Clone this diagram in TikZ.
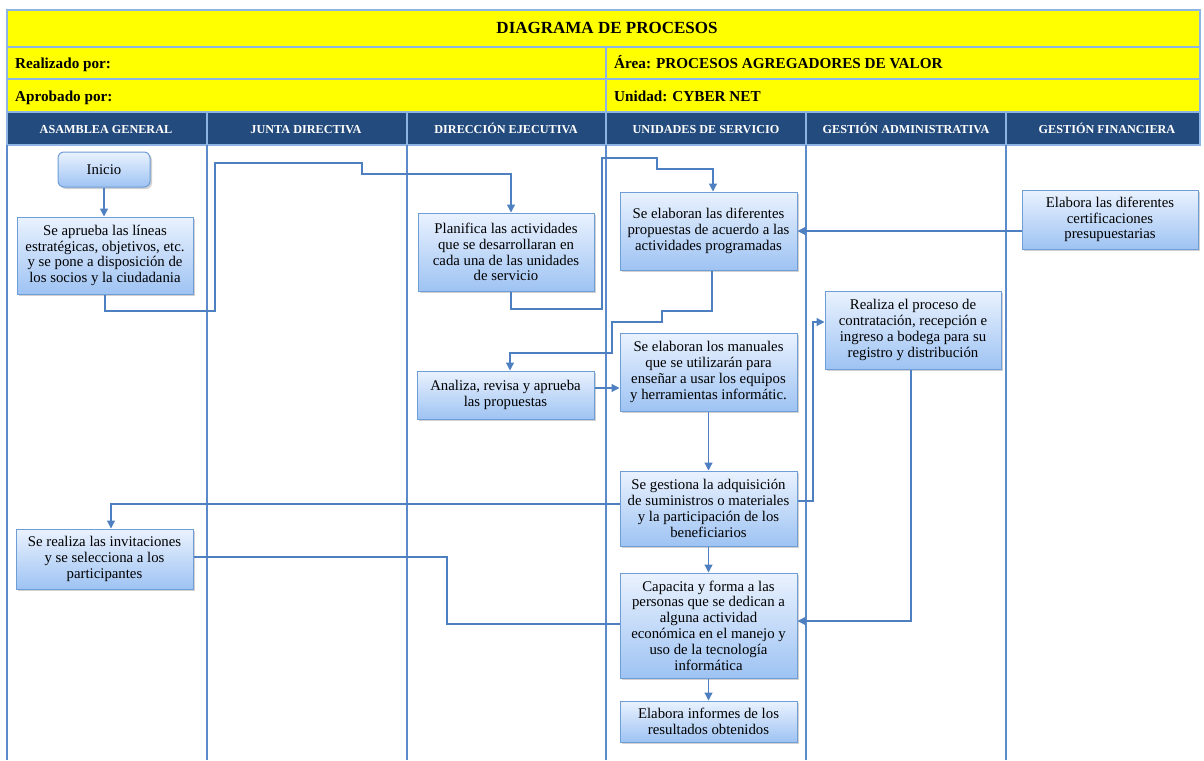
\documentclass[tikz,border=0pt]{standalone}
\usepackage{fontspec}
\setmainfont{Liberation Serif}
\usetikzlibrary{arrows.meta,shadows}
\definecolor{hdryellow}{HTML}{FFFF00}
\definecolor{hdrblue}{HTML}{244B7D}
\definecolor{gridblue}{HTML}{8EB4E3}
\definecolor{laneblue}{HTML}{5B8BCB}
\definecolor{connblue}{HTML}{4E7FC0}
\definecolor{boxborder}{HTML}{6F9DD6}
\definecolor{boxtop}{HTML}{EAF2FE}
\definecolor{boxbot}{HTML}{9EC3F3}
\begin{document}
\begin{tikzpicture}[x=1pt,y=-1pt,
  gridline/.style={draw=gridblue,line width=1.5pt},
  lane/.style={draw=laneblue,line width=1.2pt},
  conn/.style={draw=connblue,line width=1.2pt},
  arr/.style={conn,-{Triangle[width=8pt,length=8pt]}},
  hdrtxt/.style={text=white,font=\bfseries\fontsize{12.2}{14}\selectfont,inner sep=0pt,anchor=base},
  rowtxt/.style={text=black,font=\bfseries\fontsize{15.2}{17}\selectfont,inner sep=0pt,anchor=base west},
  procbox/.style={draw=boxborder,line width=1pt,top color=boxtop,bottom color=boxbot,
    drop shadow={shadow xshift=2pt,shadow yshift=-2pt,opacity=0.3,fill=black!60},
    align=center,inner sep=1pt,font=\fontsize{14.8}{15.8}\selectfont},
]
\useasboundingbox (0,0) rectangle (1204,760);
% header table
\fill[hdryellow] (7,10) rectangle (1200,112);
\fill[hdrblue] (7,112) rectangle (1200,145);
\draw[gridline] (7,10) rectangle (1200,145);
\draw[gridline] (7,47) -- (1200,47);
\draw[gridline] (7,79) -- (1200,79);
\draw[gridline] (7,112) -- (1200,112);
\draw[gridline] (606,47) -- (606,112);
\foreach \x in {207,407,606,806,1006} \draw[gridline] (\x,112) -- (\x,145);
% lanes
\foreach \x in {7,207,407,606,806,1006} \draw[lane] (\x,145) -- (\x,760);
% header texts
\node[font=\bfseries\fontsize{17}{19}\selectfont,inner sep=0pt,anchor=base] (title) at (607,34) {DIAGRAMA DE PROCESOS};
\node[rowtxt] (realiz) at (15,68) {Realizado por:};
\node[rowtxt] (aprob) at (15,101) {Aprobado por:};
\node[rowtxt] (area) at (614,68) {Área: PROCESOS AGREGADORES DE VALOR};
\node[rowtxt] (unidad) at (614,101) {Unidad: CYBER NET};
\node[hdrtxt] (h1) at (106,133) {ASAMBLEA GENERAL};
\node[hdrtxt] (h2) at (306,133) {JUNTA DIRECTIVA};
\node[hdrtxt] (h3) at (506,133) {DIRECCIÓN EJECUTIVA};
\node[hdrtxt] (h4) at (706,133) {UNIDADES DE SERVICIO};
\node[hdrtxt] (h5) at (906,133) {GESTIÓN ADMINISTRATIVA};
\node[hdrtxt] (h6) at (1107,133) {GESTIÓN FINANCIERA};
% process boxes
\node[procbox,rounded corners=6pt,minimum width=92pt,minimum height=35pt] (start) at (104,169.5) {Inicio};
\node[procbox,minimum width=176pt,minimum height=77pt] (a1) at (105,255.5) {Se aprueba las líneas\\estratégicas, objetivos, etc.\\y se pone a disposición de\\los socios y la ciudadania};
\node[procbox,minimum width=176pt,minimum height=78pt] (d1) at (506,252) {Planifica las actividades\\que se desarrollaran en\\cada una de las unidades\\de servicio};
\node[procbox,minimum width=177pt,minimum height=78pt] (u1) at (708.5,231) {Se elaboran las diferentes\\propuestas de acuerdo a las\\actividades programadas};
\node[procbox,minimum width=176pt,minimum height=59pt] (f1) at (1110,219.5) {Elabora las diferentes\\certificaciones\\presupuestarias};
\node[procbox,minimum width=176pt,minimum height=78pt] (g1) at (913,330) {Realiza el proceso de\\contratación, recepción e\\ingreso a bodega para su\\registro y distribución};
\node[procbox,minimum width=177pt,minimum height=48pt] (d2) at (505.5,395) {Analiza, revisa y aprueba\\las propuestas};
\node[procbox,minimum width=177pt,minimum height=78pt] (u2) at (708.5,372) {Se elaboran los manuales\\que se utilizarán para\\enseñar a usar los equipos\\y herramientas informátic.};
\node[procbox,minimum width=177pt,minimum height=75pt] (u3) at (708.5,508.5) {Se gestiona la adquisición\\de suministros o materiales\\y la participación de los\\beneficiarios};
\node[procbox,minimum width=177pt,minimum height=60pt] (a2) at (104.5,559) {Se realiza las invitaciones\\y se selecciona a los\\participantes};
\node[procbox,minimum width=177pt,minimum height=105pt] (u4) at (708.5,625.5) {Capacita y forma a las\\personas que se dedican a\\alguna actividad\\económica en el manejo y\\uso de la tecnología\\informática};
\node[procbox,minimum width=177pt,minimum height=41pt] (u5) at (708.5,721.5) {Elabora informes de los\\resultados obtenidos};
% connectors
\draw[arr] (start.south) -- (start.south |- a1.north);
\draw[arr] (a1.south) -- (105,311) -- (215,311) -- (215,163) -- (362,163) -- (362,174) -- (511,174) -- (511,0 |- d1.north);
\draw[arr] (511,0 |- d1.south) -- (511,309) -- (602,309) -- (602,158) -- (657,158) -- (657,169) -- (713,169) -- (713,0 |- u1.north);
\draw[arr] (f1.west |- u1.east) -- (u1.east);
\draw[arr] (712,0 |- u1.south) -- (712,311) -- (662,311) -- (662,322) -- (612,322) -- (612,353) -- (510,353) -- (510,0 |- d2.north);
\draw[arr] (d2.east |- 0,388) -- (u2.west |- 0,388);
\draw[arr] (u2.south) -- (u3.north);
\draw[arr] (u3.east |- 0,501) -- (813,501) -- (813,322) -- (g1.west |- 0,322);
\draw[arr] (u3.west |- 0,504) -- (111,504) -- (111,0 |- a2.north);
\draw[conn] (a2.east |- 0,557) -- (447,557) -- (447,624) -- (u4.west |- 0,624);
\draw[arr] (u3.south) -- (u4.north);
\draw[arr] (911,0 |- g1.south) -- (911,621) -- (u4.east |- 0,621);
\draw[arr] (u4.south) -- (u5.north);
\end{tikzpicture}
\end{document}
